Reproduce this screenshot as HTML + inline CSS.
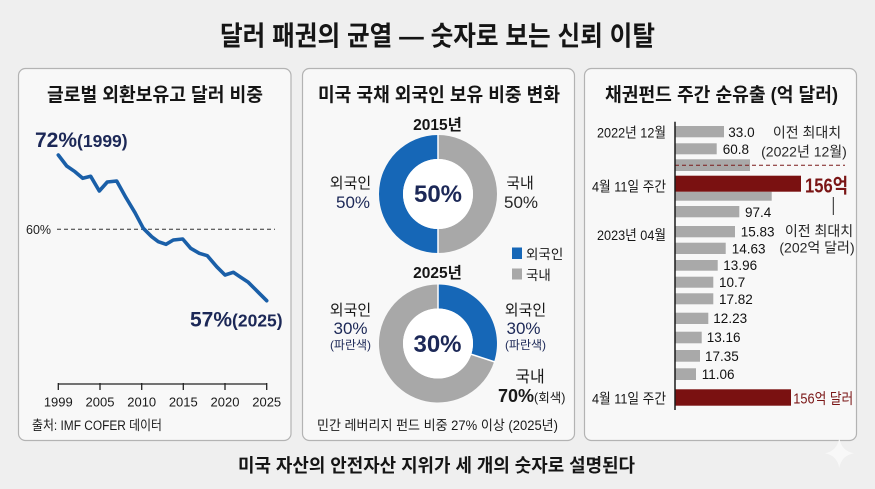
<!DOCTYPE html>
<html><head><meta charset="utf-8"><style>
html,body{margin:0;padding:0;background:#efefef;}
svg{display:block;}
text{font-family:"Liberation Sans","Noto Sans CJK KR",sans-serif;}
</style></head><body>
<svg width="875" height="489" viewBox="0 0 875 489" xmlns="http://www.w3.org/2000/svg">
<rect x="0" y="0" width="875" height="489" fill="#efefef"/>
<!-- title -->
<text x="220" y="45.5" font-size="27" font-weight="bold" fill="#151515" textLength="435" lengthAdjust="spacingAndGlyphs">달러 패권의 균열 — 숫자로 보는 신뢰 이탈</text>

<!-- panels -->
<rect x="18.5" y="68.5" width="272.5" height="372" rx="7" fill="#f8f8f8" stroke="#b3b3b3" stroke-width="1.2"/>
<rect x="302.5" y="68.5" width="272" height="372" rx="7" fill="#f8f8f8" stroke="#b3b3b3" stroke-width="1.2"/>
<rect x="584.5" y="68.5" width="272" height="372" rx="7" fill="#f8f8f8" stroke="#b3b3b3" stroke-width="1.2"/>

<!-- LEFT PANEL -->
<text x="47" y="101" font-size="19" font-weight="bold" fill="#151515" textLength="216" lengthAdjust="spacingAndGlyphs">글로벌 외환보유고 달러 비중</text>
<text x="35" y="147" font-weight="bold" fill="#1c2857"><tspan font-size="21">72%</tspan><tspan font-size="17.5">(1999)</tspan></text>
<line x1="57" y1="229.3" x2="275" y2="229.3" stroke="#333" stroke-width="1" stroke-dasharray="4,3"/>
<text x="26" y="234" font-size="12.5" fill="#222">60%</text>
<polyline fill="none" stroke="#1a5fa8" stroke-width="3.6" stroke-linejoin="round" stroke-linecap="round"
points="58.3,155 66.7,166 75,171.7 82.7,178.3 90.7,176.3 99.3,191 107.3,182 116.7,181 126,197.7 135,212.7 143.3,228.3 151.7,236.7 158.3,241.7 166,244.3 173.3,240 182.7,239 190.7,248.3 199.3,253.3 207.3,255.7 216.7,266.7 225,275 233.3,272.3 240.7,277.3 248.3,282.3 258.3,292.3 266.7,300.7"/>
<text x="190" y="326.5" font-weight="bold" fill="#1c2857"><tspan font-size="21">57%</tspan><tspan font-size="17.5">(2025)</tspan></text>
<line x1="58" y1="384" x2="267" y2="384" stroke="#222" stroke-width="1.3"/>
<g stroke="#222" stroke-width="1.3">
<line x1="58.3" y1="383" x2="58.3" y2="390"/><line x1="100" y1="383" x2="100" y2="390"/><line x1="141.7" y1="383" x2="141.7" y2="390"/><line x1="183.3" y1="383" x2="183.3" y2="390"/><line x1="225" y1="383" x2="225" y2="390"/><line x1="266.7" y1="383" x2="266.7" y2="390"/>
</g>
<g font-size="13" fill="#1a1a1a" text-anchor="middle">
<text x="58.3" y="406.5">1999</text><text x="100" y="406.5">2005</text><text x="141.7" y="406.5">2010</text><text x="183.3" y="406.5">2015</text><text x="225" y="406.5">2020</text><text x="266.7" y="406.5">2025</text>
</g>
<text x="32" y="430" font-size="13.5" fill="#1a1a1a" textLength="130" lengthAdjust="spacingAndGlyphs">출처: IMF COFER 데이터</text>

<!-- MIDDLE PANEL -->
<text x="318" y="101" font-size="19" font-weight="bold" fill="#151515" textLength="242" lengthAdjust="spacingAndGlyphs">미국 국채 외국인 보유 비중 변화</text>
<text x="437.5" y="130" font-size="15.5" font-weight="bold" fill="#151515" text-anchor="middle">2015년</text>
<path d="M438,135 A59,59 0 0,0 438,253 L438,229 A35,35 0 0,1 438,159 Z" fill="#1667b7"/>
<path d="M438,135 A59,59 0 0,1 438,253 L438,229 A35,35 0 0,0 438,159 Z" fill="#a8a8a8"/>
<circle cx="438" cy="194" r="35" fill="#ffffff"/>
<line x1="438" y1="134" x2="438" y2="160" stroke="#fff" stroke-width="1.5"/>
<line x1="438" y1="228" x2="438" y2="254" stroke="#fff" stroke-width="1.5"/>
<text x="438" y="202" font-size="24" font-weight="bold" fill="#1c2857" text-anchor="middle">50%</text>
<text x="350.5" y="188" font-size="15" fill="#1a1a1a" text-anchor="middle">외국인</text>
<text x="353" y="208" font-size="17" fill="#1c2857" text-anchor="middle">50%</text>
<text x="520" y="188" font-size="15" fill="#1a1a1a" text-anchor="middle">국내</text>
<text x="521" y="208" font-size="17" fill="#262626" text-anchor="middle">50%</text>
<!-- legend -->
<rect x="512" y="247.5" width="10" height="11.5" fill="#1667b7"/>
<text x="526" y="259" font-size="13.5" fill="#1a1a1a">외국인</text>
<rect x="512" y="268.5" width="10" height="11" fill="#a8a8a8"/>
<text x="526" y="280" font-size="13.5" fill="#1a1a1a">국내</text>

<text x="437.5" y="278" font-size="15.5" font-weight="bold" fill="#151515" text-anchor="middle">2025년</text>
<path d="M438,284.5 A59,59 0 0,1 494.1,361.7 L471.3,354.3 A35,35 0 0,0 438,308.5 Z" fill="#1667b7"/>
<path d="M494.1,361.7 A59,59 0 1,1 438,284.5 L438,308.5 A35,35 0 1,0 471.3,354.3 Z" fill="#a8a8a8"/>
<circle cx="438" cy="343.5" r="35" fill="#ffffff"/>
<line x1="438" y1="283.5" x2="438" y2="309.5" stroke="#fff" stroke-width="1.5"/>
<line x1="470.4" y1="354" x2="495" y2="362" stroke="#fff" stroke-width="1.5"/>
<text x="437.5" y="352" font-size="24" font-weight="bold" fill="#1c2857" text-anchor="middle">30%</text>
<text x="350.5" y="315" font-size="15" fill="#1a1a1a" text-anchor="middle">외국인</text>
<text x="350.5" y="334" font-size="17" fill="#1c2857" text-anchor="middle">30%</text>
<text x="350.5" y="349" font-size="12" fill="#1c2857" text-anchor="middle">(파란색)</text>
<text x="525.5" y="315" font-size="15" fill="#1a1a1a" text-anchor="middle">외국인</text>
<text x="523.5" y="334" font-size="17" fill="#1c2857" text-anchor="middle">30%</text>
<text x="525.5" y="349" font-size="12" fill="#1c2857" text-anchor="middle">(파란색)</text>
<text x="530" y="382" font-size="16" fill="#1a1a1a" text-anchor="middle">국내</text>
<text x="498" y="402" fill="#1a1a1a"><tspan font-size="18" font-weight="bold">70%</tspan><tspan font-size="12.5">(회색)</tspan></text>
<text x="317" y="430" font-size="13.5" fill="#1a1a1a" textLength="241" lengthAdjust="spacingAndGlyphs">민간 레버리지 펀드 비중 27% 이상 (2025년)</text>

<!-- RIGHT PANEL -->
<text x="605" y="101" font-size="19" font-weight="bold" fill="#151515" textLength="233" lengthAdjust="spacingAndGlyphs">채권펀드 주간 순유출 (억 달러)</text>
<g fill="#a9a9a9">
<rect x="675" y="126" width="49" height="11.3"/>
<rect x="675" y="143.3" width="41.7" height="11"/>
<rect x="675" y="159.3" width="75" height="11.7"/>
<rect x="675" y="191.7" width="96.7" height="9"/>
<rect x="675" y="206" width="64.3" height="11.3"/>
<rect x="675" y="226" width="60" height="11.3"/>
<rect x="675" y="242.7" width="50.7" height="11.3"/>
<rect x="675" y="260" width="42.7" height="10.7"/>
<rect x="675" y="276.7" width="38.3" height="11"/>
<rect x="675" y="293.3" width="38.3" height="11"/>
<rect x="675" y="312.7" width="33.3" height="11.3"/>
<rect x="675" y="331.7" width="26.7" height="11.6"/>
<rect x="675" y="350" width="25" height="11.7"/>
<rect x="675" y="368.3" width="21" height="11.7"/>
</g>
<rect x="675" y="175.7" width="126" height="16" fill="#7a1111"/>
<rect x="675" y="389.3" width="116" height="16.4" fill="#7a1111"/>
<line x1="675" y1="165.3" x2="845" y2="165.3" stroke="#7a1a1a" stroke-width="1" stroke-dasharray="4,3"/>
<line x1="675" y1="121.7" x2="675" y2="410" stroke="#1a1a1a" stroke-width="1.5"/>
<line x1="833.3" y1="197" x2="833.3" y2="215" stroke="#222" stroke-width="1"/>
<g font-size="13.5" fill="#111">
<text x="728.3" y="137">33.0</text>
<text x="722.7" y="154">60.8</text>
<text x="745" y="217">97.4</text>
<text x="740.7" y="236.7">15.83</text>
<text x="731.7" y="253.5">14.63</text>
<text x="723.3" y="270">13.96</text>
<text x="719" y="287">10.7</text>
<text x="719" y="304">17.82</text>
<text x="713.3" y="323">12.23</text>
<text x="706.7" y="342">13.16</text>
<text x="705" y="361">17.35</text>
<text x="701.7" y="379">11.06</text>
</g>
<g font-size="14" fill="#161616">
<text x="597" y="137.3" textLength="69" lengthAdjust="spacingAndGlyphs">2022년 12월</text>
<text x="592" y="191.7" textLength="74" lengthAdjust="spacingAndGlyphs">4월 11일 주간</text>
<text x="597" y="240" textLength="69" lengthAdjust="spacingAndGlyphs">2023년 04월</text>
<text x="592" y="403.3" textLength="74" lengthAdjust="spacingAndGlyphs">4월 11일 주간</text>
</g>
<text x="805" y="192.7" font-size="20" font-weight="bold" fill="#7a1515" textLength="43" lengthAdjust="spacingAndGlyphs">156억</text>
<text x="793.3" y="403.3" font-size="15" fill="#7a1515" textLength="60" lengthAdjust="spacingAndGlyphs">156억 달러</text>
<g font-size="14" fill="#262626" text-anchor="middle">
<text x="807" y="137.3">이전 최대치</text>
<text x="804" y="156.7">(2022년 12월)</text>
<text x="819" y="236">이전 최대치</text>
<text x="817" y="252.7">(202억 달러)</text>
</g>

<!-- caption -->
<text x="238" y="472" font-size="18.5" font-weight="bold" fill="#151515" textLength="397" lengthAdjust="spacingAndGlyphs">미국 자산의 안전자산 지위가 세 개의 숫자로 설명된다</text>

<!-- sparkle -->
<path d="M839.3,438 Q841.5,451 854,453.3 Q841.5,455.5 839.3,468 Q837,455.5 825,453.3 Q837,451 839.3,438 Z" fill="#f8f8f8"/>
</svg>
</body></html>
